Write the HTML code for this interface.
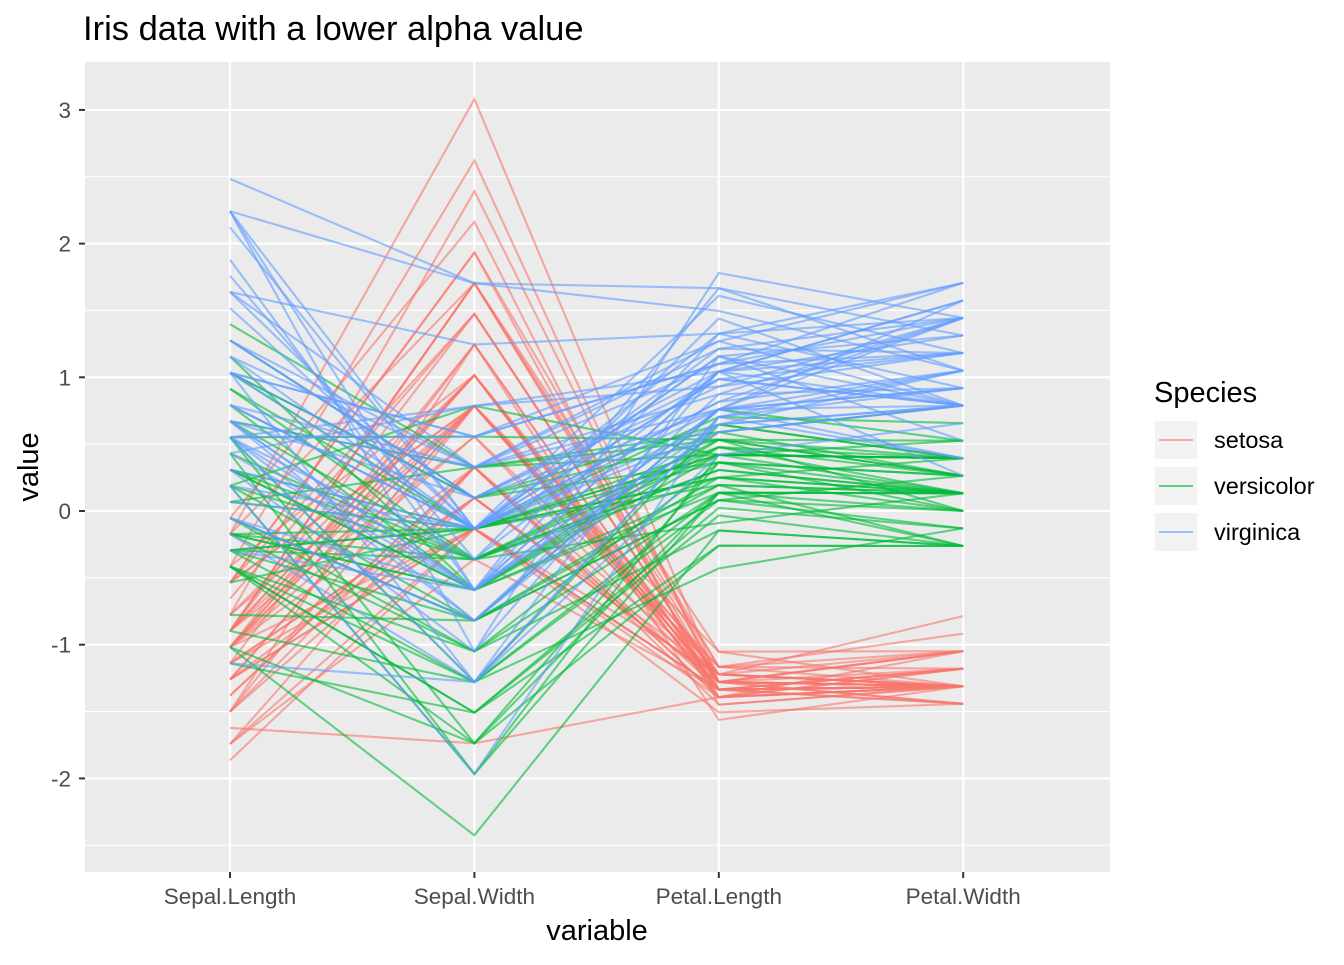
<!DOCTYPE html>
<html><head><meta charset="utf-8"><style>
body{margin:0;background:#fff;}
svg text{font-family:"Liberation Sans",Arial,sans-serif;}
</style></head><body>
<svg id="chart" width="1344" height="960" xmlns="http://www.w3.org/2000/svg">
<rect width="1344" height="960" fill="#fff"/>
<text x="83" y="40" font-size="34.5" fill="#000">Iris data with a lower alpha value</text>
<rect x="85" y="62" width="1025" height="810" fill="#ebebeb"/>
<g id="grid"></g><g id="lines"></g><g id="axes"></g>
<text x="597" y="940" font-size="29" text-anchor="middle" fill="#000">variable</text>
<text transform="translate(38,467) rotate(-90)" font-size="29" text-anchor="middle" fill="#000">value</text>
<g>
<text x="1154" y="402" font-size="29" fill="#000">Species</text>
<g id="legend"></g>
</g>
</svg>
<script>
const variables=["Sepal.Length","Sepal.Width","Petal.Length","Petal.Width"];
const species=["setosa","versicolor","virginica"];
const colors=["#F8766D","#00BA38","#619CFF"];
const yTicks=[-2,-1,0,1,2,3];
const yMinor=[-2.5,-1.5,-0.5,0.5,1.5,2.5];
const setosa=[[5.1,3.5,1.4,0.2],[4.9,3.0,1.4,0.2],[4.7,3.2,1.3,0.2],[4.6,3.1,1.5,0.2],[5.0,3.6,1.4,0.2],[5.4,3.9,1.7,0.4],[4.6,3.4,1.4,0.3],[5.0,3.4,1.5,0.2],[4.4,2.9,1.4,0.2],[4.9,3.1,1.5,0.1],[5.4,3.7,1.5,0.2],[4.8,3.4,1.6,0.2],[4.8,3.0,1.4,0.1],[4.3,3.0,1.1,0.1],[5.8,4.0,1.2,0.2],[5.7,4.4,1.5,0.4],[5.4,3.9,1.3,0.4],[5.1,3.5,1.4,0.3],[5.7,3.8,1.7,0.3],[5.1,3.8,1.5,0.3],[5.4,3.4,1.7,0.2],[5.1,3.7,1.5,0.4],[4.6,3.6,1.0,0.2],[5.1,3.3,1.7,0.5],[4.8,3.4,1.9,0.2],[5.0,3.0,1.6,0.2],[5.0,3.4,1.6,0.4],[5.2,3.5,1.5,0.2],[5.2,3.4,1.4,0.2],[4.7,3.2,1.6,0.2],[4.8,3.1,1.6,0.2],[5.4,3.4,1.5,0.4],[5.2,4.1,1.5,0.1],[5.5,4.2,1.4,0.2],[4.9,3.1,1.5,0.2],[5.0,3.2,1.2,0.2],[5.5,3.5,1.3,0.2],[4.9,3.6,1.4,0.1],[4.4,3.0,1.3,0.2],[5.1,3.4,1.5,0.2],[5.0,3.5,1.3,0.3],[4.5,2.3,1.3,0.3],[4.4,3.2,1.3,0.2],[5.0,3.5,1.6,0.6],[5.1,3.8,1.9,0.4],[4.8,3.0,1.4,0.3],[5.1,3.8,1.6,0.2],[4.6,3.2,1.4,0.2],[5.3,3.7,1.5,0.2],[5.0,3.3,1.4,0.2]];
const versicolor=[[7.0,3.2,4.7,1.4],[6.4,3.2,4.5,1.5],[6.9,3.1,4.9,1.5],[5.5,2.3,4.0,1.3],[6.5,2.8,4.6,1.5],[5.7,2.8,4.5,1.3],[6.3,3.3,4.7,1.6],[4.9,2.4,3.3,1.0],[6.6,2.9,4.6,1.3],[5.2,2.7,3.9,1.4],[5.0,2.0,3.5,1.0],[5.9,3.0,4.2,1.5],[6.0,2.2,4.0,1.0],[6.1,2.9,4.7,1.4],[5.6,2.9,3.6,1.3],[6.7,3.1,4.4,1.4],[5.6,3.0,4.5,1.5],[5.8,2.7,4.1,1.0],[6.2,2.2,4.5,1.5],[5.6,2.5,3.9,1.1],[5.9,3.2,4.8,1.8],[6.1,2.8,4.0,1.3],[6.3,2.5,4.9,1.5],[6.1,2.8,4.7,1.2],[6.4,2.9,4.3,1.3],[6.6,3.0,4.4,1.4],[6.8,2.8,4.8,1.4],[6.7,3.0,5.0,1.7],[6.0,2.9,4.5,1.5],[5.7,2.6,3.5,1.0],[5.5,2.4,3.8,1.1],[5.5,2.4,3.7,1.0],[5.8,2.7,3.9,1.2],[6.0,2.7,5.1,1.6],[5.4,3.0,4.5,1.5],[6.0,3.4,4.5,1.6],[6.7,3.1,4.7,1.5],[6.3,2.3,4.4,1.3],[5.6,3.0,4.1,1.3],[5.5,2.5,4.0,1.3],[5.5,2.6,4.4,1.2],[6.1,3.0,4.6,1.4],[5.8,2.6,4.0,1.2],[5.0,2.3,3.3,1.0],[5.6,2.7,4.2,1.3],[5.7,3.0,4.2,1.2],[5.7,2.9,4.2,1.3],[6.2,2.9,4.3,1.3],[5.1,2.5,3.0,1.1],[5.7,2.8,4.1,1.3]];
const virginica=[[6.3,3.3,6.0,2.5],[5.8,2.7,5.1,1.9],[7.1,3.0,5.9,2.1],[6.3,2.9,5.6,1.8],[6.5,3.0,5.8,2.2],[7.6,3.0,6.6,2.1],[4.9,2.5,4.5,1.7],[7.3,2.9,6.3,1.8],[6.7,2.5,5.8,1.8],[7.2,3.6,6.1,2.5],[6.5,3.2,5.1,2.0],[6.4,2.7,5.3,1.9],[6.8,3.0,5.5,2.1],[5.7,2.5,5.0,2.0],[5.8,2.8,5.1,2.4],[6.4,3.2,5.3,2.3],[6.5,3.0,5.5,1.8],[7.7,3.8,6.7,2.2],[7.7,2.6,6.9,2.3],[6.0,2.2,5.0,1.5],[6.9,3.2,5.7,2.3],[5.6,2.8,4.9,2.0],[7.7,2.8,6.7,2.0],[6.3,2.7,4.9,1.8],[6.7,3.3,5.7,2.1],[7.2,3.2,6.0,1.8],[6.2,2.8,4.8,1.8],[6.1,3.0,4.9,1.8],[6.4,2.8,5.6,2.1],[7.2,3.0,5.8,1.6],[7.4,2.8,6.1,1.9],[7.9,3.8,6.4,2.0],[6.4,2.8,5.6,2.2],[6.3,2.8,5.1,1.5],[6.1,2.6,5.6,1.4],[7.7,3.0,6.1,2.3],[6.3,3.4,5.6,2.4],[6.4,3.1,5.5,1.8],[6.0,3.0,4.8,1.8],[6.9,3.1,5.4,2.1],[6.7,3.1,5.6,2.4],[6.9,3.1,5.1,2.3],[5.8,2.7,5.1,1.9],[6.8,3.2,5.9,2.3],[6.7,3.3,5.7,2.5],[6.7,3.0,5.2,2.3],[6.3,2.5,5.0,1.9],[6.5,3.0,5.2,2.0],[6.2,3.4,5.4,2.3],[5.9,3.0,5.1,1.8]];

const NS="http://www.w3.org/2000/svg";
const PX0=85,PX1=1110,PY0=62,PY1=872;
const xScale=i=>230+i*244.4;
const yScale=v=>511-v*133.7;
function mk(tag,attrs,parent){const e=document.createElementNS(NS,tag);for(const k in attrs)e.setAttribute(k,attrs[k]);parent.appendChild(e);return e;}
const grid=document.getElementById('grid'),lines=document.getElementById('lines'),axes=document.getElementById('axes'),legend=document.getElementById('legend');
yMinor.forEach(v=>{const l=mk('line',{x1:PX0,x2:PX1,y1:yScale(v),y2:yScale(v),stroke:'#fff','stroke-width':1.1},grid);

});
yTicks.forEach(v=>{const y=yScale(v);
const l=mk('line',{x1:PX0,x2:PX1,y1:y,y2:y,stroke:'#fff','stroke-width':2.1},grid);


const t=mk('line',{x1:79,x2:85,y1:y,y2:y,stroke:'#333','stroke-width':2},axes);


const tx=mk('text',{x:71,y:y+8,'font-size':22.5,'text-anchor':'end',fill:'#4d4d4d'},axes);tx.textContent=v;

});
variables.forEach((v,i)=>{const x=xScale(i);
const l=mk('line',{x1:x,x2:x,y1:PY0,y2:PY1,stroke:'#fff','stroke-width':2.1},grid);


const t=mk('line',{x1:x,x2:x,y1:872,y2:878,stroke:'#333','stroke-width':2},axes);


const tx=mk('text',{x:x,y:904,'font-size':22.5,'text-anchor':'middle',fill:'#4d4d4d'},axes);tx.textContent=v;

});
const all=[setosa,versicolor,virginica];
const allRows=[].concat(...all);
const means=[0,1,2,3].map(j=>allRows.reduce((s,r)=>s+r[j],0)/allRows.length);
const sds=[0,1,2,3].map(j=>Math.sqrt(allRows.reduce((s,r)=>s+(r[j]-means[j])**2,0)/(allRows.length-1)));
all.forEach((rows,si)=>{rows.forEach(r=>{
const pts=r.map((v,j)=>xScale(j).toFixed(1)+','+yScale((v-means[j])/sds[j]).toFixed(1)).join(' ');
const p=mk('polyline',{points:pts,fill:'none',stroke:colors[si],'stroke-opacity':0.6,'stroke-width':2.1},lines);

});});
species.forEach((s,i)=>{const y=421+i*46;
const r=mk('rect',{x:1155,y:y,width:42,height:38,fill:'#f2f2f2'},legend);


const l=mk('line',{x1:1159,x2:1193,y1:y+19,y2:y+19,stroke:colors[i],'stroke-opacity':0.6,'stroke-width':2.1},legend);


const t=mk('text',{x:1214,y:y+27,'font-size':23.5,fill:'#000'},legend);t.textContent=s;

});
</script>
</body></html>
